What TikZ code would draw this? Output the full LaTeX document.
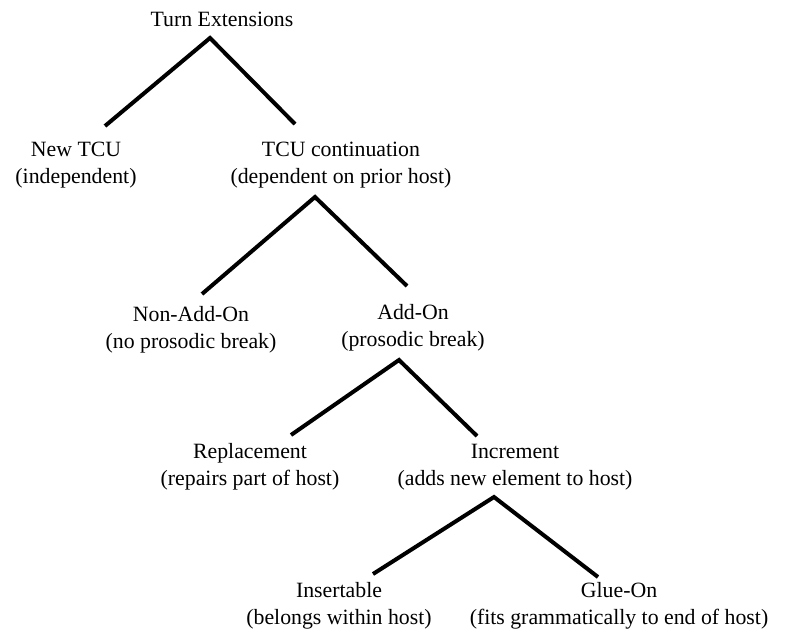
\documentclass[tikz,border=0pt]{standalone}
\usepackage{fontspec}
\setmainfont{Liberation Serif}

\begin{document}
\begin{tikzpicture}[x=0.5pt, y=-0.5pt,
    branch/.style={line width=2pt, line cap=butt, line join=miter},
    lbl/.style={align=center, inner sep=0pt, font=\fontsize{10.9}{13.5}\selectfont}]
    \useasboundingbox (0,0) rectangle (785,633);

    % Knoten der Baumstruktur
    \node[lbl] (turn) at (222,19) {Turn Extensions};
    \node[lbl] (new) at (76,165) {New TCU\\(independent)};
    \node[lbl] (cont) at (341,165) {TCU continuation\\(dependent on prior host)};
    \node[lbl] (nonadd) at (191,330) {Non-Add-On\\(no prosodic break)};
    \node[lbl] (addon) at (413,328) {Add-On\\(prosodic break)};
    \node[lbl] (repl) at (250,467) {Replacement\\(repairs part of host)};
    \node[lbl] (incr) at (515,467) {Increment\\(adds new element to host)};
    \node[lbl] (ins) at (339,606) {Insertable\\(belongs within host)};
    \node[lbl] (glue) at (619,606) {Glue-On\\(fits grammatically to end of host)};

    % Verzweigungspunkte unter den Eltern, Enden über den Kindern
    \coordinate (turn-a) at (210,38);
    \coordinate (new-e) at (105,126);
    \coordinate (cont-e) at (295,124);
    \coordinate (cont-a) at (315,197);
    \coordinate (nonadd-e) at (202,294);
    \coordinate (addon-e) at (407,286);
    \coordinate (addon-a) at (399,360);
    \coordinate (repl-e) at (291,435);
    \coordinate (incr-e) at (477,436);
    \coordinate (incr-a) at (494,497);
    \coordinate (ins-e) at (373,574);
    \coordinate (glue-e) at (598,577);

    % Äste
    \draw[branch] (new-e) -- (turn-a) -- (cont-e);
    \draw[branch] (nonadd-e) -- (cont-a) -- (addon-e);
    \draw[branch] (repl-e) -- (addon-a) -- (incr-e);
    \draw[branch] (ins-e) -- (incr-a) -- (glue-e);
\end{tikzpicture}
\end{document}
